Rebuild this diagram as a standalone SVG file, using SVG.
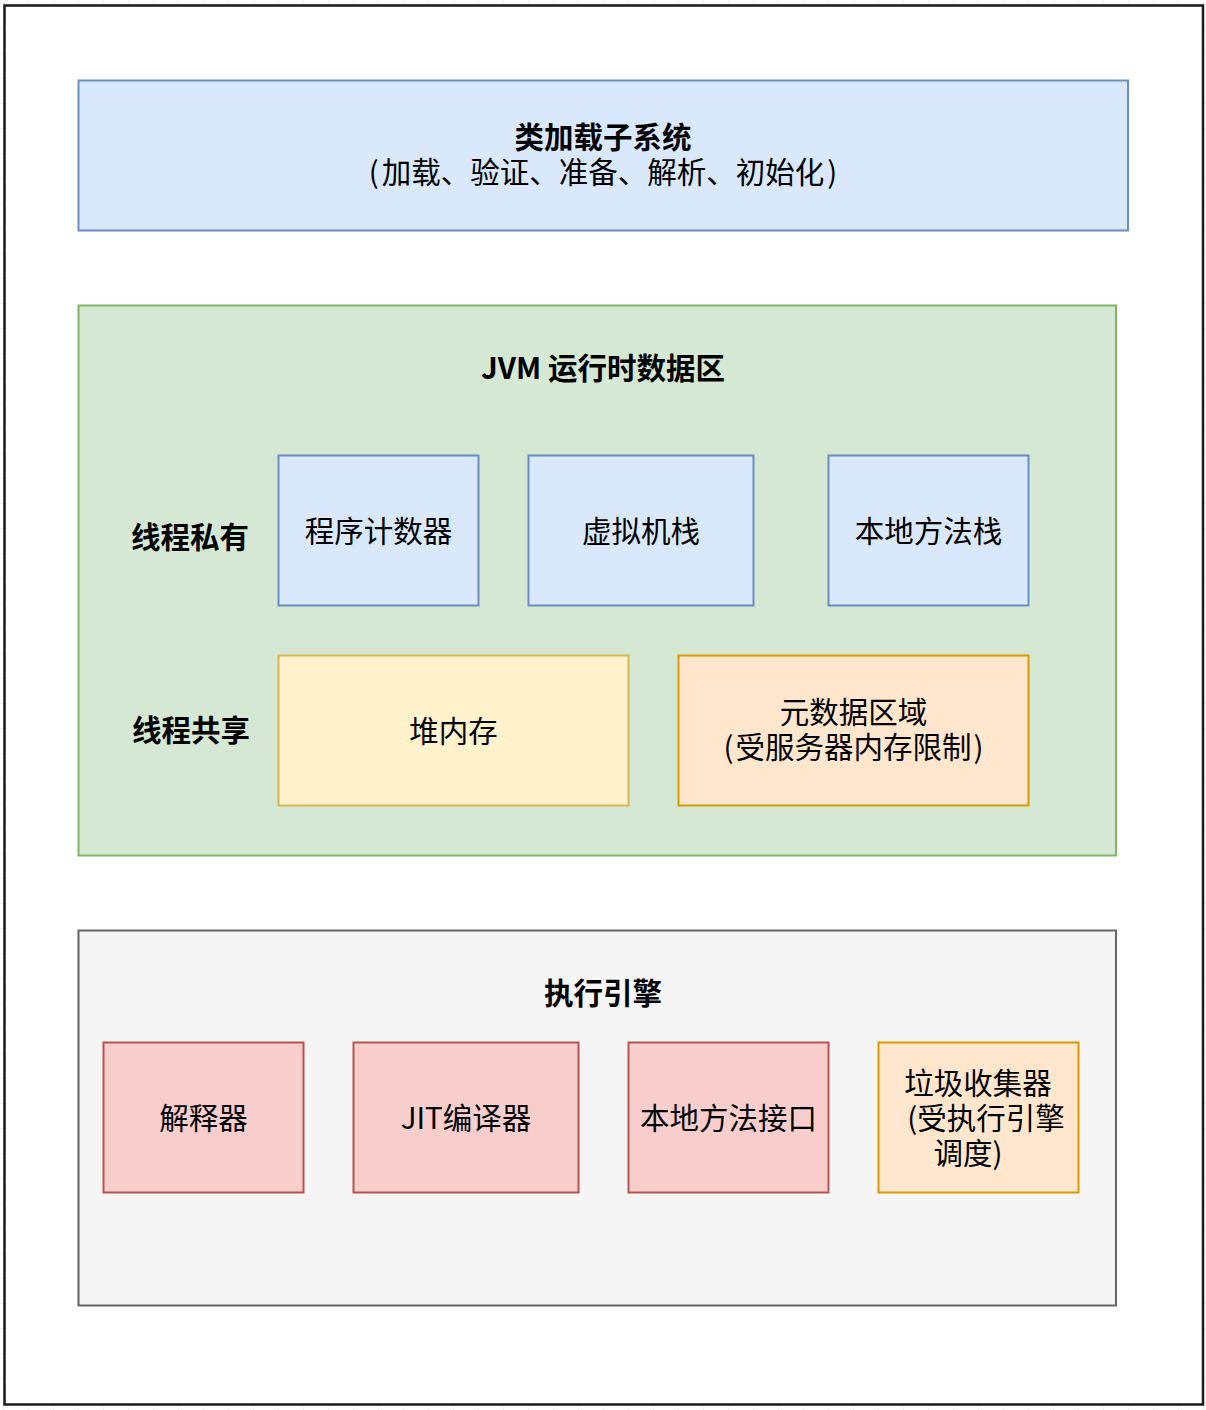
<svg xmlns="http://www.w3.org/2000/svg" width="1206" height="1410" viewBox="0 0 1206 1410">
  <style>
    text { font-family: "Noto Sans CJK SC", "Liberation Sans", sans-serif; font-size: 29.5px; fill: #000; text-anchor: middle; dominant-baseline: central; }
    .b { font-weight: bold; }
    .box { stroke-width: 2; }
    .blue { fill: #dae8fc; stroke: #6c8ebf; }
    .green { fill: #d5e8d4; stroke: #82b366; }
    .gray { fill: #f5f5f5; stroke: #666666; }
    .red { fill: #f8cecc; stroke: #b85450; }
    .yellow { fill: #fff2cc; stroke: #d6b656; }
    .orange { fill: #ffe6cc; stroke: #d79b00; }
  </style>
  <defs>
    <pattern id="grid" x="3" y="3" width="25" height="25" patternUnits="userSpaceOnUse">
      <path d="M0 0 H25 M0 0 V25" stroke="#e6e6e6" stroke-width="1" fill="none"/>
    </pattern>
  </defs>
  <rect x="0" y="0" width="1206" height="1410" fill="#ffffff"/>
  <rect x="0" y="0" width="1206" height="1410" fill="url(#grid)"/>
  <rect id="frame" x="4.5" y="5.5" width="1198.5" height="1399" fill="#ffffff" stroke="#1a1a1a" stroke-width="2.5"/>

  <g id="class-loader">
    <rect class="box blue" x="78.5" y="80.5" width="1049.5" height="150"/>
    <text x="603" y="135"><tspan class="b">类加载子系统</tspan><tspan x="603" dy="35">(</tspan><tspan dx="3">加载、验证、准备、解析、初始化</tspan><tspan dx="3">)</tspan></text>
  </g>

  <g id="runtime-data-area">
    <rect class="box green" x="78.5" y="305.5" width="1037.5" height="550"/>
    <text class="b" x="603" y="366">JVM 运行时数据区</text>
  </g>
  <g id="label-private"><text class="b" x="190" y="535">线程私有</text></g>
  <g id="label-shared"><text class="b" x="191" y="728">线程共享</text></g>

  <g id="pc-register">
    <rect class="box blue" x="278.5" y="455.5" width="200" height="150"/>
    <text x="378.5" y="529">程序计数器</text>
  </g>
  <g id="vm-stack">
    <rect class="box blue" x="528.5" y="455.5" width="225" height="150"/>
    <text x="641" y="529">虚拟机栈</text>
  </g>
  <g id="native-method-stack">
    <rect class="box blue" x="828.5" y="455.5" width="200" height="150"/>
    <text x="928.5" y="529">本地方法栈</text>
  </g>
  <g id="heap">
    <rect class="box yellow" x="278.5" y="655.5" width="350" height="150"/>
    <text x="453.5" y="729">堆内存</text>
  </g>
  <g id="metaspace">
    <rect class="box orange" x="678.5" y="655.5" width="350" height="150"/>
    <text x="853.5" y="710">元数据区域<tspan x="853.5" dy="35">(</tspan><tspan dx="2">受服务器内存限制</tspan><tspan dx="2">)</tspan></text>
  </g>

  <g id="execution-engine">
    <rect class="box gray" x="78.5" y="930.5" width="1037.5" height="375"/>
    <text class="b" x="603" y="991">执行引擎</text>
  </g>
  <g id="interpreter">
    <rect class="box red" x="103.5" y="1042.5" width="200" height="150"/>
    <text x="203.5" y="1116">解释器</text>
  </g>
  <g id="jit-compiler">
    <rect class="box red" x="353.5" y="1042.5" width="225" height="150"/>
    <text x="466" y="1116">JIT编译器</text>
  </g>
  <g id="native-interface">
    <rect class="box red" x="628.5" y="1042.5" width="200" height="150"/>
    <text x="728.5" y="1116">本地方法接口</text>
  </g>
  <g id="garbage-collector">
    <rect class="box orange" x="878.5" y="1042.5" width="200" height="150"/>
    <text x="978" y="1081">垃圾收集器<tspan x="986" dy="35">(受执行引擎</tspan><tspan x="968" dy="35">调度)</tspan></text>
  </g>

  <g id="connectors"></g>
</svg>
